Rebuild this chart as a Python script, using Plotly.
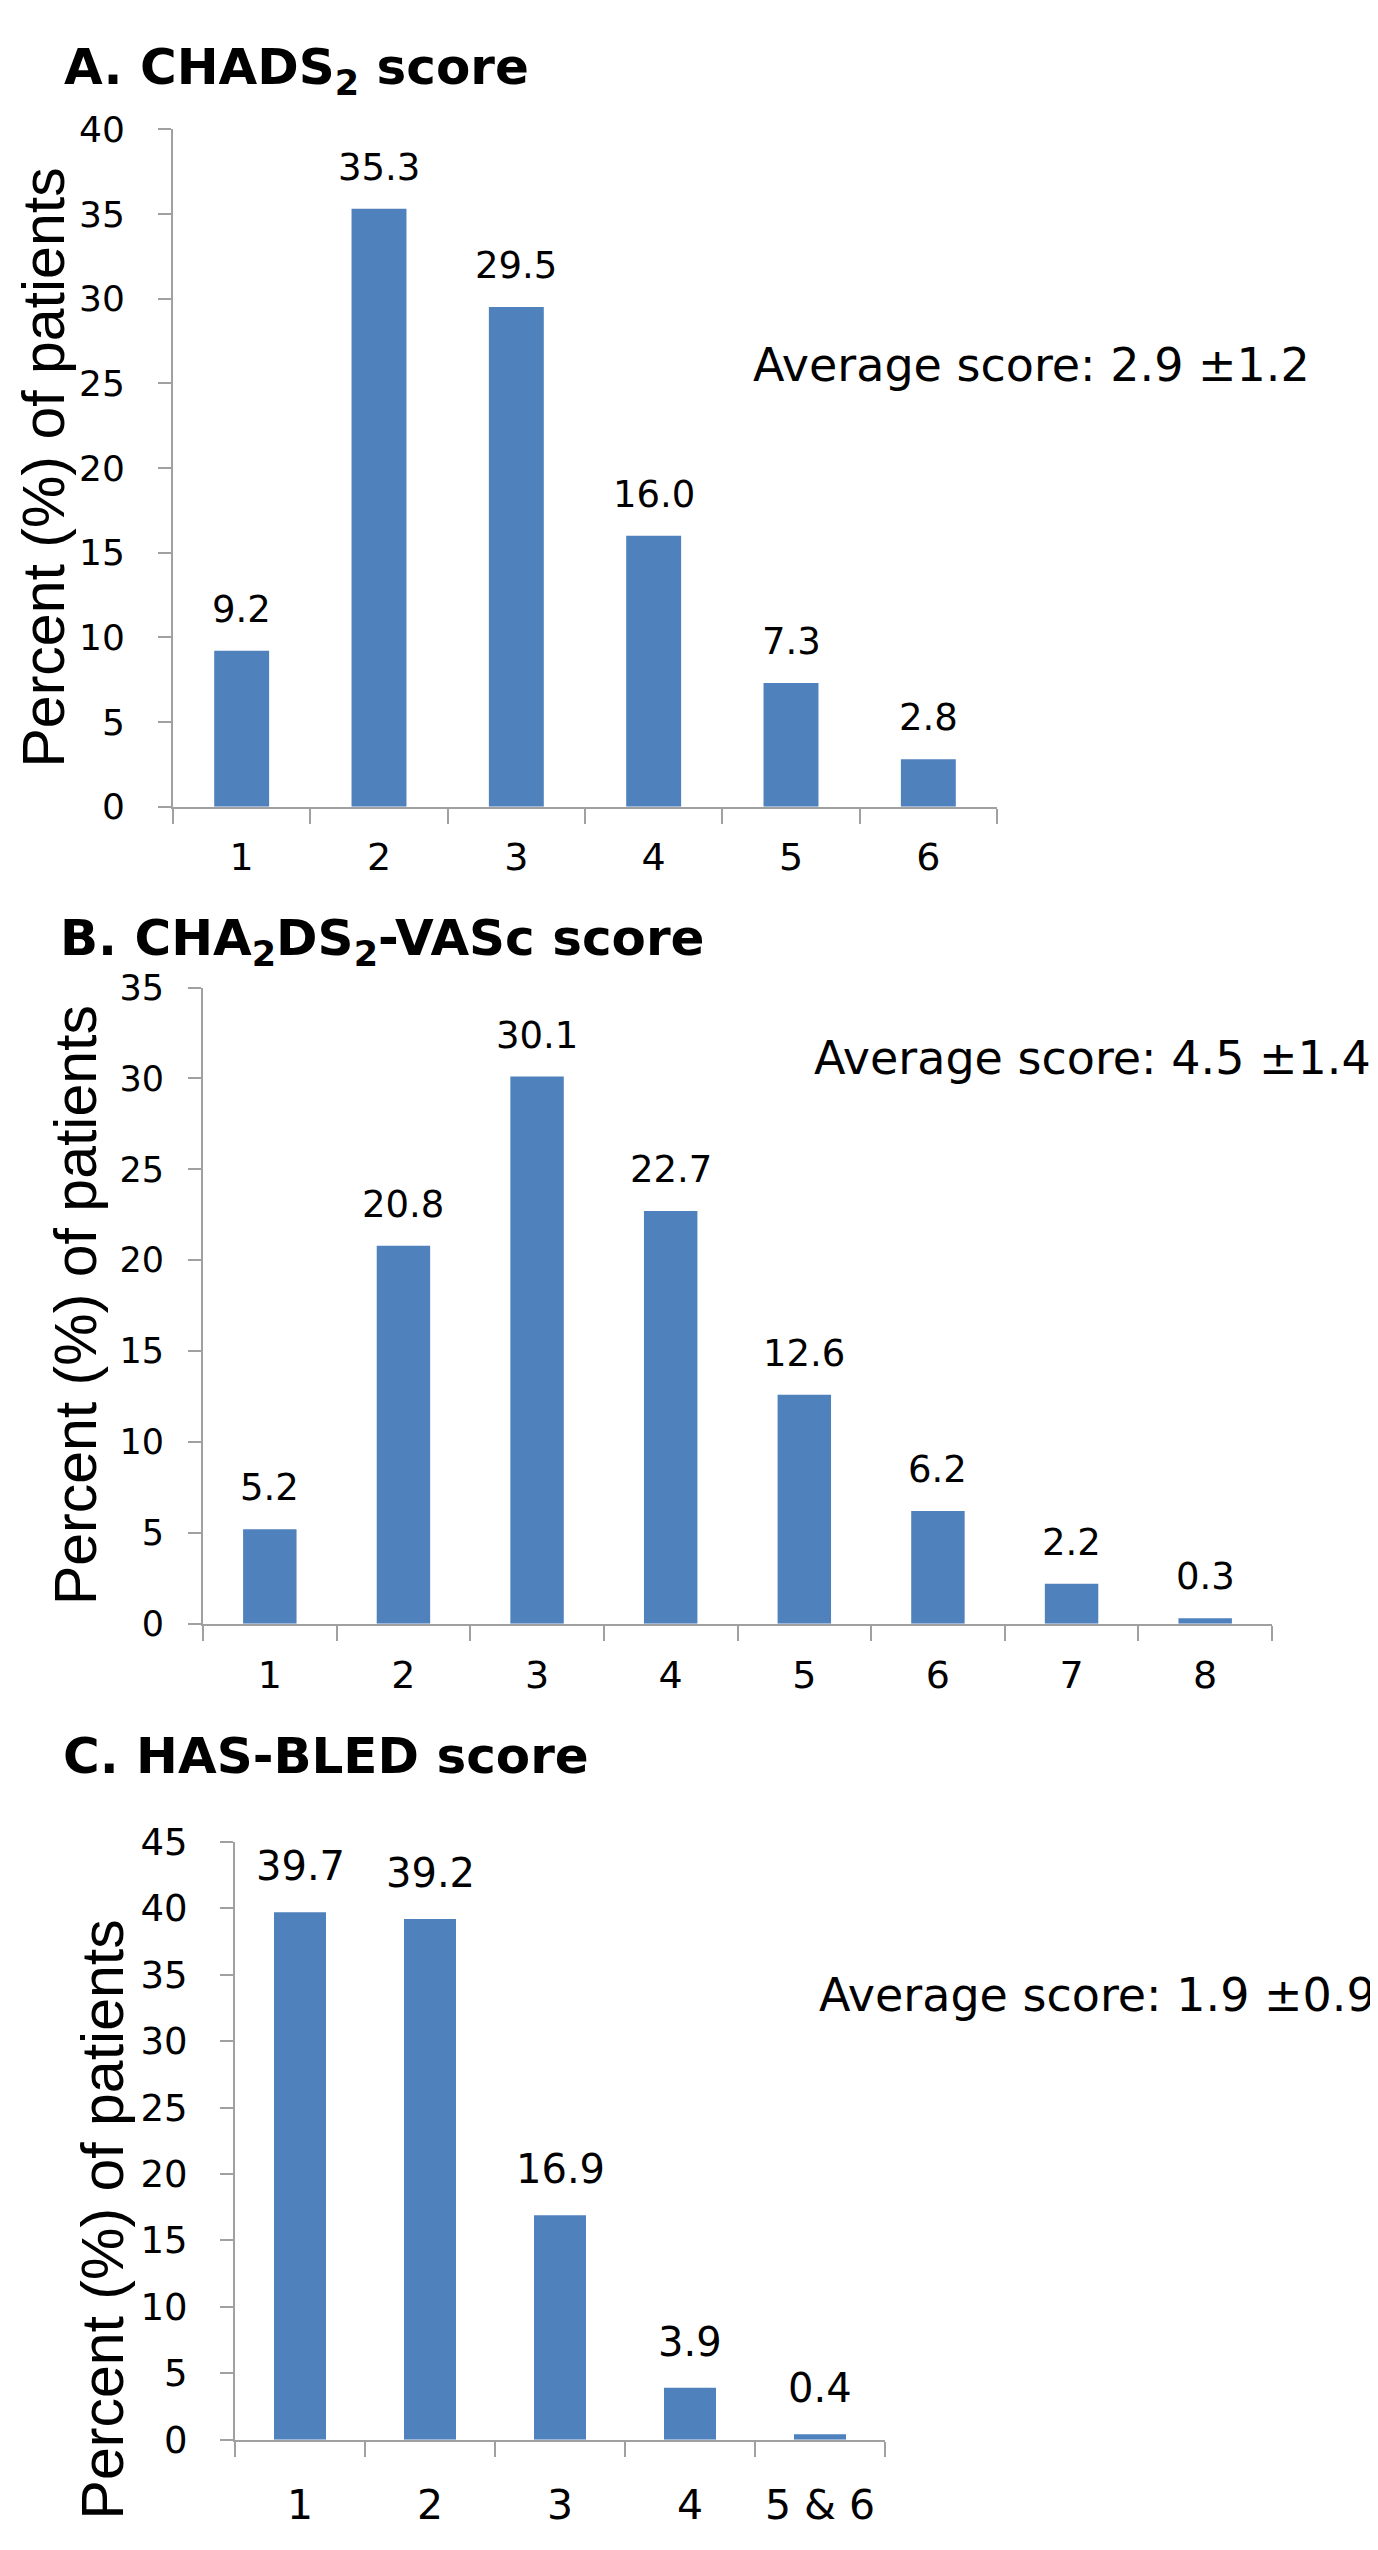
import plotly.graph_objects as go

W, H = 1378, 2550

# ---- data ----
a_cats = ["1", "2", "3", "4", "5", "6"]
a_vals = [9.2, 35.3, 29.5, 16.0, 7.3, 2.8]
b_cats = ["1", "2", "3", "4", "5", "6", "7", "8"]
b_vals = [5.2, 20.8, 30.1, 22.7, 12.6, 6.2, 2.2, 0.3]
c_cats = ["1", "2", "3", "4", "5 & 6"]
c_vals = [39.7, 39.2, 16.9, 3.9, 0.4]

titles = ["A. CHADS<sub>2</sub> score",
          "B. CHA<sub>2</sub>DS<sub>2</sub>-VASc score",
          "C. HAS-BLED score"]
avg_texts = ["Average score: 2.9 \u00b11.2",
             "Average score: 4.5 \u00b11.4",
             "Average score: 1.9 \u00b10.9"]
y_title = "Percent (%) of patients"
y_max = [40, 35, 45]

# ---- layout (pixels) ----
panels = [
    dict(cats=a_cats, vals=a_vals, x0=165, x1=989, ybot=791, ytop=102,
         title_xy=(54, 42), avg_xy=(743, 342), ytitle_xy=(36, 446),
         lab_shift=18, yls=26, xls=16, fx=38, fy=36, fl=37),
    dict(cats=b_cats, vals=b_vals, x0=195, x1=1264, ybot=1622, ytop=975,
         title_xy=(50, 928), avg_xy=(804, 1047), ytitle_xy=(68, 1298),
         lab_shift=18, yls=17, xls=17, fx=38, fy=35, fl=37),
    dict(cats=c_cats, vals=c_vals, x0=227, x1=877, ybot=2452, ytop=1844,
         title_xy=(53, 1757), avg_xy=(809, 2000), ytitle_xy=(95, 2228),
         lab_shift=21, yls=25, xls=28, fx=41, fy=37, fl=40),
]

BAR = "#4F81BD"
AX = "#A0A0A0"
HFONT = "DejaVu Sans"

fig = go.Figure()
annotations = []
for i, p in enumerate(panels):
    n = "" if i == 0 else str(i + 1)
    ncat = len(p["cats"])
    fig.add_trace(go.Bar(x=p["cats"], y=p["vals"], marker_color=BAR,
                         marker_line_width=0, width=0.4,
                         xaxis="x" + n, yaxis="y" + n, showlegend=False,
                         hoverinfo="skip"))
    fig.update_layout(**{
        "xaxis" + n: dict(
            domain=[p["x0"] / W, p["x1"] / W], anchor="y" + n,
            type="category", range=[-0.5, ncat - 0.5],
            tickson="boundaries", ticks="outside",
            ticklen=15, tickwidth=2, tickcolor=AX, showline=True,
            linecolor=AX, linewidth=2, showgrid=False, zeroline=False,
            ticklabelstandoff=p["xls"],
            tickfont=dict(family=HFONT, size=p["fx"], color="black"),
            fixedrange=True),
        "yaxis" + n: dict(
            domain=[1 - p["ybot"] / H, 1 - p["ytop"] / H], anchor="x" + n,
            range=[0, y_max[i]], dtick=5, ticks="outside", ticklen=13,
            tickwidth=2, tickcolor=AX, showline=True, linecolor=AX,
            linewidth=2, showgrid=False, zeroline=False,
            ticklabelstandoff=p["yls"],
            tickfont=dict(family=HFONT, size=p["fy"], color="black"),
            fixedrange=True),
    })
    for j, v in enumerate(p["vals"]):
        annotations.append(dict(
            x=j, y=v, xref="x" + n, yref="y" + n, text=f"{v:.1f}",
            showarrow=False, yanchor="bottom", xanchor="center",
            yshift=p["lab_shift"],
            font=dict(family=HFONT, size=p["fl"], color="black")))
    annotations.append(dict(
        x=p["title_xy"][0] / W, y=1 - p["title_xy"][1] / H,
        xref="paper", yref="paper", text="<b>" + titles[i] + "</b>",
        showarrow=False, xanchor="left", yanchor="middle",
        font=dict(family=HFONT, size=50, color="black")))
    annotations.append(dict(
        x=p["avg_xy"][0] / W, y=1 - p["avg_xy"][1] / H,
        xref="paper", yref="paper", text=avg_texts[i],
        showarrow=False, xanchor="left", yanchor="middle",
        font=dict(family=HFONT, size=46, color="black")))
    annotations.append(dict(
        x=p["ytitle_xy"][0] / W, y=1 - p["ytitle_xy"][1] / H,
        xref="paper", yref="paper", text=y_title, textangle=-90,
        showarrow=False, xanchor="center", yanchor="middle",
        font=dict(family="Liberation Sans", size=59, color="black")))

fig.update_layout(
    width=W, height=H, autosize=False,
    margin=dict(l=0, r=0, t=0, b=0),
    paper_bgcolor="white", plot_bgcolor="white",
    annotations=annotations, bargap=0.6,
)

fig.write_html("out.html", config={"displayModeBar": False})
